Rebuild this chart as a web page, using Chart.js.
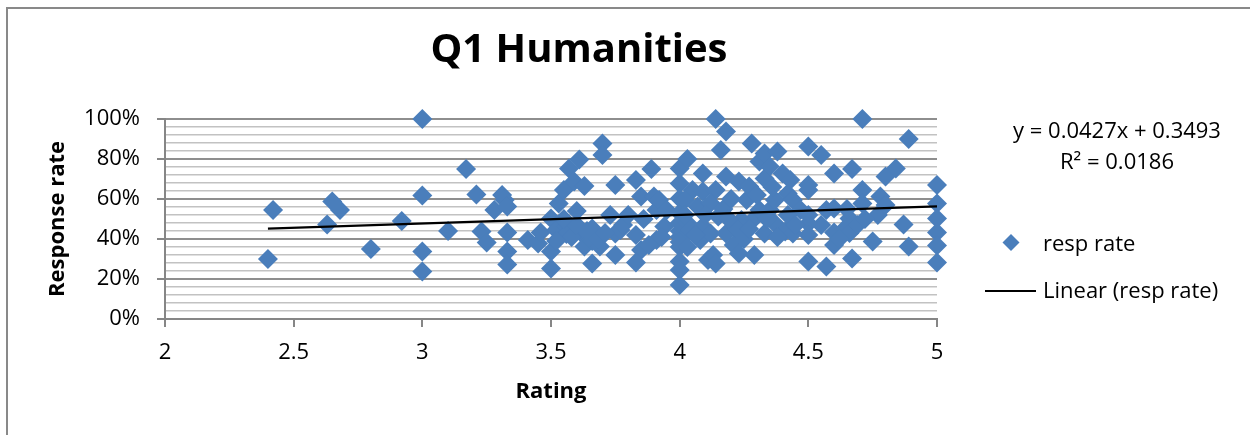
<!DOCTYPE html>
<html>
<head>
<meta charset="utf-8">
<script src="https://cdn.jsdelivr.net/npm/chart.js@4"></script>
<style>
  body { margin: 0; background: #fff; }
  #wrap { position: relative; width: 1250px; height: 435px; overflow: hidden; }
  #frame { position: absolute; left: 6px; top: 7px; width: 1400px; height: 600px;
           border-left: 2px solid #898989; border-top: 2px solid #898989; }
  canvas { position: absolute; left: 0; top: 0; }
</style>
</head>
<body>
<div id="wrap">
  <div id="frame"></div>
  <canvas id="chart" width="1250" height="435"></canvas>
</div>
<script>
// ratings (x) and response rates (y)
const ratings = [
  2.40, 2.42, 2.63, 2.65, 2.68, 2.80, 2.92,
  3.00, 3.00, 3.00, 3.00, 3.10, 3.17, 3.21,
  3.23, 3.25, 3.28, 3.31, 3.32, 3.33, 3.33, 3.33, 3.33,
  3.41, 3.45, 3.46, 3.50, 3.50, 3.50,
  3.52, 3.53, 3.55, 3.56, 3.56, 3.57, 3.59, 3.61, 3.63, 3.62, 3.63,
  3.66, 3.66, 3.66, 3.69, 3.70, 3.70, 3.73, 3.75, 3.75, 3.75, 3.77,
  3.83, 3.85, 3.83, 3.85, 3.83, 3.89, 3.90, 3.91, 3.91, 3.94, 3.92, 3.93, 3.95,
  3.58, 3.60, 3.64, 3.68, 3.55, 3.52, 3.60, 3.71, 3.78, 3.86, 3.88, 3.80,
  4.00, 4.00, 4.00, 4.00, 4.00, 4.00, 4.00, 4.00, 4.00, 4.00, 4.00, 4.00,
  4.03, 4.05, 4.03, 4.02, 4.02, 4.04, 4.03,
  4.09, 4.09, 4.07, 4.08, 4.09, 4.12, 4.11, 4.13, 4.14, 4.15, 4.14,
  4.14, 4.18, 4.16, 4.18, 4.18, 4.21, 4.23, 4.23, 4.24, 4.26, 4.27, 4.28, 4.29, 4.29,
  4.31, 4.31, 4.33, 4.33, 4.33, 4.35, 4.35, 4.37, 4.37, 4.38, 4.40, 4.41, 4.42, 4.43,
  4.44, 4.44, 4.47, 4.50, 4.50, 4.50, 4.50, 4.50, 4.50, 4.50,
  4.55, 4.57, 4.57, 4.60, 4.60, 4.60, 4.60, 4.64, 4.66, 4.66, 4.67, 4.67, 4.69,
  4.71, 4.71, 4.71, 4.75, 4.77, 4.78, 4.80, 4.84, 4.87, 4.89, 4.89,
  5.00, 5.00, 5.00, 5.00, 5.00, 5.00,
  4.12, 4.17, 4.20, 4.22, 4.25, 4.30, 4.34, 4.38, 4.42, 4.45, 4.10, 4.06,
  4.19, 4.27, 4.36, 4.55, 4.62, 4.65, 4.72, 4.80
];
const respRates = [
  0.30, 0.545, 0.473, 0.587, 0.545, 0.35, 0.49,
  1.00, 0.617, 0.337, 0.237, 0.44, 0.75, 0.623,
  0.437, 0.382, 0.545, 0.62, 0.595, 0.562, 0.432, 0.337, 0.273,
  0.395, 0.378, 0.432, 0.503, 0.337, 0.253,
  0.445, 0.578, 0.645, 0.462, 0.425, 0.753, 0.687, 0.798, 0.665, 0.428, 0.362,
  0.453, 0.39, 0.278, 0.362, 0.878, 0.82, 0.52, 0.67, 0.428, 0.32, 0.445,
  0.695, 0.612, 0.42, 0.345, 0.283, 0.75, 0.612, 0.545, 0.395, 0.462, 0.595, 0.41, 0.545,
  0.41, 0.47, 0.44, 0.40, 0.50, 0.39, 0.54, 0.43, 0.47, 0.50, 0.37, 0.52,
  0.753, 0.678, 0.603, 0.53, 0.41, 0.36, 0.287, 0.245, 0.17, 0.44, 0.48, 0.385,
  0.80, 0.645, 0.48, 0.595, 0.52, 0.445, 0.36,
  0.728, 0.637, 0.562, 0.395, 0.462, 0.428, 0.295, 0.32, 0.278, 0.512, 0.645,
  1.00, 0.937, 0.845, 0.712, 0.428, 0.37, 0.687, 0.328, 0.495, 0.595, 0.662, 0.878, 0.503, 0.32,
  0.787, 0.545, 0.428, 0.828, 0.703, 0.762, 0.545, 0.595, 0.478, 0.837, 0.728, 0.437, 0.628, 0.695,
  0.428, 0.595, 0.545, 0.52, 0.478, 0.862, 0.67, 0.645, 0.42, 0.287,
  0.82, 0.545, 0.262, 0.728, 0.553, 0.433, 0.37, 0.45, 0.503, 0.43, 0.75, 0.303, 0.47,
  1.00, 0.645, 0.578, 0.387, 0.52, 0.612, 0.712, 0.753, 0.473, 0.90, 0.362,
  0.67, 0.578, 0.503, 0.433, 0.367, 0.283,
  0.58, 0.55, 0.60, 0.45, 0.40, 0.62, 0.50, 0.41, 0.52, 0.47, 0.52, 0.42,
  0.50, 0.45, 0.66, 0.47, 0.40, 0.55, 0.50, 0.57
];

// Excel linear trendline shown on the chart
const trendSlope = 0.0427;
const trendIntercept = 0.3493;
const trendRange = [2.4, 5];
const trendLabel = ['y = 0.0427x + 0.3493', 'R\u00b2 = 0.0186'];

const xTicks = [2, 2.5, 3, 3.5, 4, 4.5, 5];
const yMajor = [0, 0.2, 0.4, 0.6, 0.8, 1];

const FONT = "'Open Sans', sans-serif";
const BLUE = '#4a7ebb';

const points = ratings.map((r, i) => ({ x: r, y: respRates[i] }));
const trend = trendRange.map(x => ({ x: x, y: trendSlope * x + trendIntercept }));

function isMajor(v) {
  return yMajor.some(m => Math.abs(m - v) < 0.001);
}

const extras = {
  id: 'extras',
  afterDraw(chart) {
    const ctx = chart.ctx;
    ctx.save();
    ctx.fillStyle = '#000';
    ctx.textAlign = 'center';
    ctx.textBaseline = 'alphabetic';
    ctx.font = 'bold 40px ' + FONT;
    ctx.fillText('Q1 Humanities', 579, 62);

    ctx.font = '22px ' + FONT;
    ctx.fillText(trendLabel[0], 1117, 138);
    ctx.fillText(trendLabel[1], 1117, 169);

    // legend
    ctx.fillStyle = BLUE;
    ctx.beginPath();
    ctx.moveTo(1011, 234); ctx.lineTo(1019.5, 242.5);
    ctx.lineTo(1011, 251); ctx.lineTo(1002.5, 242.5);
    ctx.closePath();
    ctx.fill();
    ctx.strokeStyle = '#000';
    ctx.lineWidth = 2;
    ctx.beginPath();
    ctx.moveTo(985, 291); ctx.lineTo(1036, 291);
    ctx.stroke();
    ctx.fillStyle = '#000';
    ctx.textAlign = 'left';
    ctx.fillText('resp rate', 1043, 251);
    ctx.fillText('Linear (resp rate)', 1043, 298);
    ctx.restore();
  }
};

new Chart(document.getElementById('chart'), {
  type: 'scatter',
  data: {
    datasets: [
      {
        label: 'resp rate',
        data: points,
        order: 1,
        clip: false,
        pointStyle: 'rectRot',
        pointRadius: 10,
        pointHoverRadius: 10,
        backgroundColor: BLUE,
        borderColor: BLUE,
        borderWidth: 0
      },
      {
        label: 'Linear (resp rate)',
        data: trend,
        order: 0,
        clip: false,
        showLine: true,
        pointRadius: 0,
        borderColor: '#000',
        borderWidth: 2.2
      }
    ]
  },
  options: {
    responsive: false,
    animation: false,
    layout: { padding: { top: 119, right: 313, bottom: 0, left: 0 } },
    plugins: {
      legend: { display: false },
      title: { display: false },
      tooltip: { enabled: false }
    },
    scales: {
      x: {
        type: 'linear',
        min: 2,
        max: 5,
        afterFit(scale) { scale.height = 116; },
        afterBuildTicks(scale) { scale.ticks = xTicks.map(v => ({ value: v })); },
        border: { color: '#868686', width: 2 },
        grid: { drawOnChartArea: false, drawTicks: true, tickLength: 8, color: '#868686', lineWidth: 2 },
        ticks: {
          color: '#000',
          font: { family: FONT, size: 22 },
          padding: 13,
          maxRotation: 0,
          autoSkip: false,
          callback: v => String(v)
        },
        title: { display: true, text: 'Rating', color: '#000', font: { family: FONT, size: 22, weight: 'bold' }, padding: { bottom: 30 } }
      },
      y: {
        min: 0,
        max: 1,
        afterFit(scale) { scale.width = 165; },
        border: { color: '#868686', width: 2 },
        grid: {
          tickLength: 8,
          color: ctx => isMajor(ctx.tick.value) ? '#8e8e8e' : '#c2c2c2',
          lineWidth: ctx => isMajor(ctx.tick.value) ? 2 : 1.5,
          tickColor: ctx => isMajor(ctx.tick.value) ? '#868686' : 'rgba(0,0,0,0)'
        },
        ticks: {
          stepSize: 0.04,
          maxTicksLimit: 30,
          autoSkip: false,
          padding: 17,
          color: '#000',
          font: { family: FONT, size: 22 },
          callback: v => isMajor(v) ? Math.round(v * 100) + '%' : ''
        },
        title: { display: true, text: 'Response rate', color: '#000', font: { family: FONT, size: 22, weight: 'bold' }, padding: { top: 45 } }
      }
    }
  },
  plugins: [extras]
});
</script>
</body>
</html>
